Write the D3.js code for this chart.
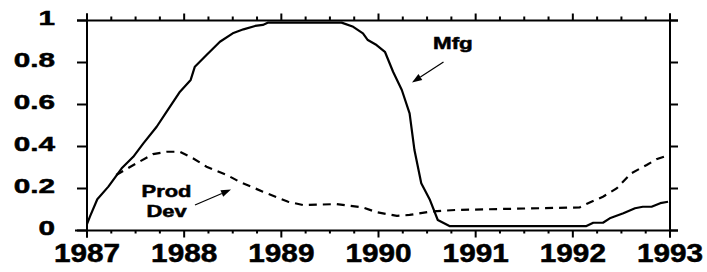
<!DOCTYPE html>
<html><head><meta charset="utf-8">
<script src="https://cdn.jsdelivr.net/npm/d3@7"></script>
<style>
html,body{margin:0;padding:0;background:#fff;}
svg{display:block;}
text{font-family:"Liberation Sans",Arial,sans-serif;font-weight:bold;fill:#000;stroke:#000;stroke-width:0.5px;}
</style></head>
<body><svg id="c" width="707" height="272"></svg>
<script>
// ---- data ----
const mfgT = [1987.0,1987.03,1987.106,1987.22,1987.357,1987.476,1987.58,1987.717,1987.82,1987.957,1988.067,1988.11,1988.23,1988.368,1988.5,1988.61,1988.73,1988.81,1988.865,1989.62,1989.74,1989.84,1989.89,1989.98,1990.066,1990.15,1990.24,1990.32,1990.37,1990.44,1990.53,1990.61,1990.73,1992.14,1992.21,1992.31,1992.38,1992.52,1992.64,1992.72,1992.81,1992.9,1992.98];
const mfgV = [0.03,0.066,0.149,0.209,0.296,0.351,0.415,0.494,0.566,0.661,0.717,0.78,0.836,0.899,0.939,0.958,0.974,0.979,0.99,0.99,0.97,0.939,0.907,0.883,0.851,0.756,0.669,0.558,0.383,0.225,0.145,0.05,0.021,0.021,0.037,0.037,0.058,0.082,0.106,0.113,0.113,0.13,0.137];
const devT = [1987.3,1987.51,1987.68,1987.82,1987.957,1988.09,1988.23,1988.44,1988.57,1988.81,1989.07,1989.225,1989.57,1989.84,1989.98,1990.19,1990.32,1990.53,1990.8,1992.07,1992.14,1992.31,1992.45,1992.6,1992.76,1992.86,1992.96];
const devV = [0.264,0.32,0.364,0.375,0.375,0.344,0.304,0.264,0.232,0.185,0.137,0.121,0.126,0.11,0.087,0.07,0.074,0.09,0.098,0.11,0.126,0.161,0.2,0.272,0.312,0.339,0.355];
const yearTicks = [1987,1988,1989,1990,1991,1992,1993];
const yTicks = [0,0.2,0.4,0.6,0.8,1];
const yTickLabels = ["0","0.2","0.4","0.6","0.8","1"];
const labelMfg = "Mfg";
const labelDev = ["Prod","Dev"];

// ---- scales ----
const x = d3.scaleLinear().domain([1987,1993]).range([87,670]);
const y = d3.scaleLinear().domain([0,1]).range([230.5,20.5]);
const svg = d3.select("#c");
svg.append("rect").attr("width",707).attr("height",272).attr("fill","#fff");

const minorTicks = d3.range(1987,1993.001,0.25).filter(t=>Math.abs(t-Math.round(t))>1e-6);

// axes
const ax = svg.append("g").attr("stroke","#000").attr("stroke-width",2).attr("fill","none");
ax.append("line").attr("x1",x(1987)-10).attr("x2",x(1993)+8).attr("y1",y(1)).attr("y2",y(1));
ax.append("line").attr("x1",x(1987)-12).attr("x2",x(1993)+8).attr("y1",y(0)).attr("y2",y(0));
ax.append("line").attr("x1",x(1987)).attr("x2",x(1987)).attr("y1",y(1)-7).attr("y2",y(0)+7);
ax.append("line").attr("x1",x(1993)).attr("x2",x(1993)).attr("y1",y(1)-7).attr("y2",y(0)+7);
yearTicks.forEach(t=>{
  ax.append("line").attr("x1",x(t)).attr("x2",x(t)).attr("y1",y(1)).attr("y2",y(1)-7);
  ax.append("line").attr("x1",x(t)).attr("x2",x(t)).attr("y1",y(0)).attr("y2",y(0)+7);
});
minorTicks.forEach(t=>{
  ax.append("line").attr("x1",x(t)).attr("x2",x(t)).attr("y1",y(1)).attr("y2",y(1)-4);
  ax.append("line").attr("x1",x(t)).attr("x2",x(t)).attr("y1",y(0)).attr("y2",y(0)+3);
});
yTicks.forEach(v=>{
  ax.append("line").attr("x1",x(1987)).attr("x2",x(1987)-10).attr("y1",y(v)).attr("y2",y(v));
  ax.append("line").attr("x1",x(1993)).attr("x2",x(1993)+8).attr("y1",y(v)).attr("y2",y(v));
});

// tick labels
yTicks.forEach((v,i)=>{
  svg.append("text").attr("transform",`translate(55,${y(v)+4.5}) scale(1.45,1)`)
    .attr("text-anchor","end").attr("font-size",20.5).text(yTickLabels[i]);
});
yearTicks.forEach(t=>{
  svg.append("text").attr("transform",`translate(${x(t)},262) scale(1.19,1)`)
    .attr("text-anchor","middle").attr("font-size",25).text(String(t));
});

// lines
const line = d3.line().x(d=>x(d[0])).y(d=>y(d[1]));
svg.append("path").datum(devT.map((t,i)=>[t,devV[i]])).attr("d",line)
  .attr("fill","none").attr("stroke","#000").attr("stroke-width",2.2).attr("stroke-dasharray","8,6");
svg.append("path").datum(mfgT.map((t,i)=>[t,mfgV[i]])).attr("d",line)
  .attr("fill","none").attr("stroke","#000").attr("stroke-width",2.2).attr("stroke-linejoin","round");

// annotations
svg.append("text").attr("transform","translate(433,49) scale(1.4,1)").attr("font-size",16).text(labelMfg);
svg.append("text").attr("transform","translate(166.5,197) scale(1.37,1)").attr("text-anchor","middle").attr("font-size",16).text(labelDev[0]);
svg.append("text").attr("transform","translate(166.5,216.5) scale(1.37,1)").attr("text-anchor","middle").attr("font-size",16).text(labelDev[1]);

function arrow(x1,y1,x2,y2){
  const a = Math.atan2(y2-y1,x2-x1), L=10, W=3.5;
  const bx = x2-L*Math.cos(a), by = y2-L*Math.sin(a);
  svg.append("line").attr("x1",x1).attr("y1",y1).attr("x2",bx).attr("y2",by).attr("stroke","#000").attr("stroke-width",1.2);
  svg.append("path").attr("d",`M${x2},${y2}L${bx+W*Math.sin(a)},${by-W*Math.cos(a)}L${bx-W*Math.sin(a)},${by+W*Math.cos(a)}Z`).attr("fill","#000");
}
arrow(443.5,62,412,82.5);
arrow(195,205,231,189.5);
</script></body></html>
